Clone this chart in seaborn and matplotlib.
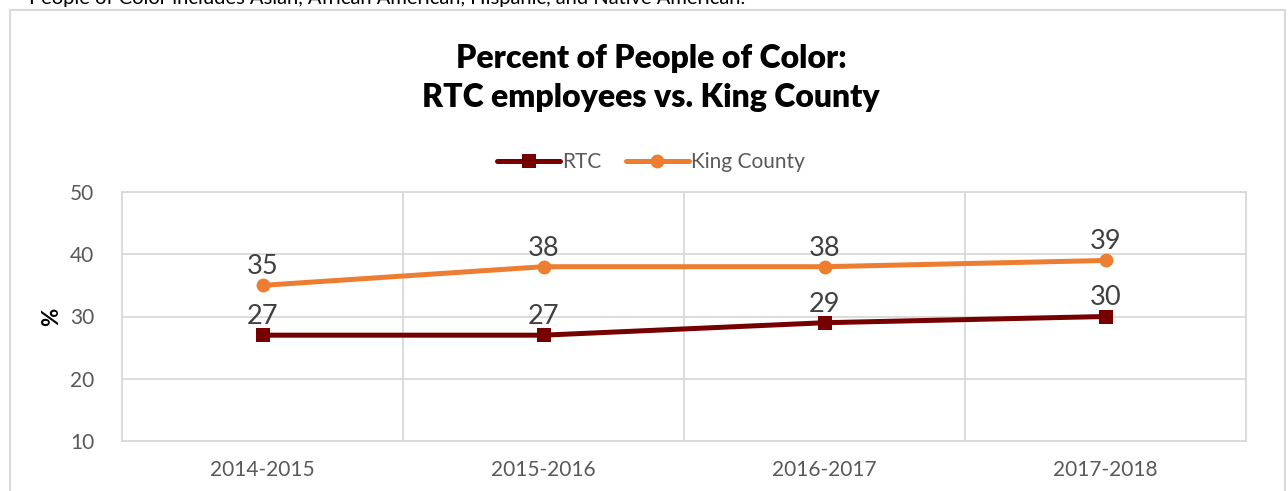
import matplotlib
matplotlib.use("Agg")
import matplotlib.pyplot as plt
import seaborn as sns
import pandas as pd
from matplotlib.patches import Rectangle

years = ["2014-2015", "2015-2016", "2016-2017", "2017-2018"]
rtc = [27, 27, 29, 30]
king_county = [35, 38, 38, 39]
y_ticks = [10, 20, 30, 40, 50]

df = pd.DataFrame({
    "year": years * 2,
    "pct": rtc + king_county,
    "series": ["RTC"] * 4 + ["King County"] * 4,
})

sns.set_theme(style="white")
plt.rcParams["font.family"] = ["Lato", "DejaVu Sans"]

W, H = 1288, 491
fig = plt.figure(figsize=(W / 100, H / 100), dpi=100)
ax = fig.add_axes([122 / W, 1 - 441 / H, (1246 - 122) / W, (441 - 192) / H])

palette = {"RTC": "#760000", "King County": "#ED7D31"}
markers = {"RTC": "s", "King County": "o"}
sns.lineplot(data=df, x="year", y="pct", hue="series", style="series",
             markers=markers, dashes=False, palette=palette,
             hue_order=["RTC", "King County"], style_order=["RTC", "King County"],
             linewidth=3.6, markersize=10, markeredgewidth=0, ax=ax, sort=False)

for s in ["RTC", "King County"]:
    sub = df[df.series == s]
    for i, (yr, v) in enumerate(zip(sub.year, sub.pct)):
        ax.annotate(f"{v}", (i, v), xytext=(0, 8), textcoords="offset points",
                    ha="center", va="baseline", fontsize=19.5, color="#404040")

ax.set_xlim(-0.5, 3.5)
ax.set_ylim(10, 50)
ax.set_yticks(y_ticks)
ax.set_xticks(range(len(years)))
ax.set_xticklabels(years)
for b in [0.5, 1.5, 2.5]:
    ax.axvline(b, color="#D9D9D9", lw=1.3, zorder=0)
for t in y_ticks:
    ax.axhline(t, color="#D9D9D9", lw=1.3, zorder=0)
for sp in ax.spines.values():
    sp.set_color("#D9D9D9")
    sp.set_linewidth(1.3)
ax.tick_params(axis="both", length=0, labelsize=15, labelcolor="#595959")
ax.tick_params(axis="x", pad=14)
ax.tick_params(axis="y", pad=20)
ax.set_xlabel("")
ax.set_ylabel("%", fontsize=16, fontweight="bold", color="black", labelpad=6)

handles, labels = ax.get_legend_handles_labels()
ax.legend_.remove()
fig.legend(handles, labels, loc="center", bbox_to_anchor=(651 / W, 1 - 162 / H),
           ncol=2, frameon=False, fontsize=15, labelcolor="#595959",
           handlelength=3.0, columnspacing=1.2, handletextpad=0.1)

fig.text(651 / W, 1 - 78 / H, "Percent of People of Color:\nRTC employees vs. King County",
         ha="center", va="center", fontsize=23, fontweight="heavy", color="black",
         linespacing=1.4)

fig.text(29 / W, 1 - 4 / H,
         "People of Color includes Asian, African American, Hispanic, and Native American.",
         ha="left", va="baseline", fontsize=14.5, color="black")

fig.patches.append(Rectangle((10 / W, -0.05), (1285 - 10) / W, 1 - 10 / H + 0.05,
                             transform=fig.transFigure, fill=False,
                             edgecolor="#D9D9D9", lw=1.5))

fig.savefig("out.png", dpi=100)
